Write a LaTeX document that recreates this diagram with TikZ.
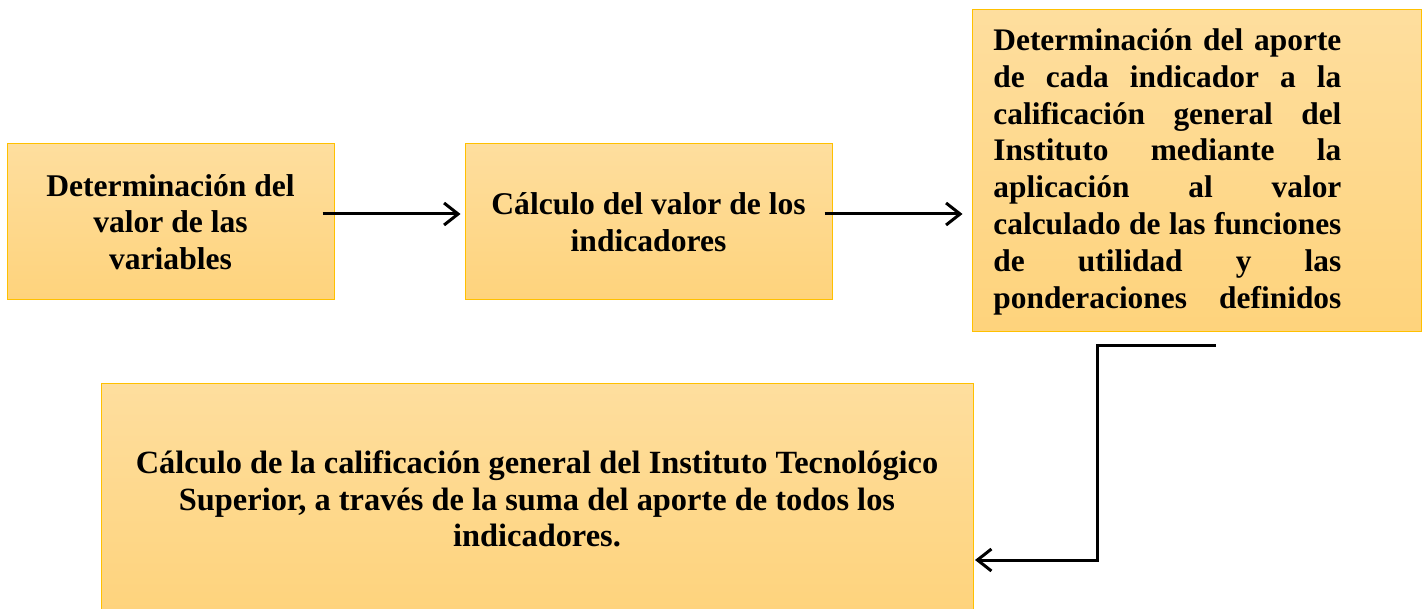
\documentclass[tikz,border=0pt]{standalone}
\usepackage{fontspec}
\setmainfont{Liberation Serif}
\usetikzlibrary{arrows.meta}
\definecolor{boxtop}{RGB}{254,222,158}
\definecolor{boxbot}{RGB}{254,211,124}
\definecolor{boxline}{RGB}{255,192,0}
\tikzset{
  box/.style={draw=boxline, line width=0.5pt, top color=boxtop, bottom color=boxbot,
    font=\fontsize{15.8}{18.4}\selectfont\bfseries, align=center, inner sep=0pt},
  txt/.style={font=\fontsize{15.7}{18.45}\selectfont\bfseries, inner sep=0pt},
  arr/.style={-{Straight Barb[length=7pt,width=11pt]}, line width=1.5pt}
}
\begin{document}
\begin{tikzpicture}[x=0.5pt,y=-0.5pt]
  \useasboundingbox (0,0) rectangle (1424,609);
  \node[box, minimum width=163.5pt, minimum height=78pt] (b1) at (170.5,222)
    {Determinación del\\valor de las\\variables};
  \node[box, minimum width=183.5pt, minimum height=78pt] (b2) at (648.5,222)
    {Cálculo del valor de los\\indicadores};
  \node[box, minimum width=224.5pt, minimum height=160.5pt] (b3) at (1196.5,170.5) {};
  \node[txt, text width=174pt, align=justify, anchor=north west] (t3) at (993,28)
    {Determinación del aporte\linebreak
     de cada indicador a la\linebreak
     calificación general del\linebreak
     Instituto mediante la\linebreak
     aplicación al valor\linebreak
     calculado de las funciones\linebreak
     de utilidad y las\linebreak
     ponderaciones definidos\parfillskip=0pt\par};
  \node[box, font=\fontsize{16.2}{18.4}\selectfont\bfseries,
    minimum width=436pt, minimum height=116pt] (b4) at (537,499)
    {Cálculo de la calificación general del Instituto Tecnológico\\
     Superior, a través de la suma del aporte de todos los\\
     indicadores.};
  \coordinate (a1) at ([xshift=-6pt,yshift=4pt]b1.east);
  \coordinate (a2) at ([xshift=-4pt,yshift=4pt]b2.east);
  \coordinate (s3) at (1216,345);
  \coordinate (k3) at (1097,560);
  \coordinate (e4) at (975,560);
  \draw[arr] (a1) -- ([xshift=-2pt]a1 -| b2.west);
  \draw[arr] (a2) -- ([xshift=-4.5pt]a2 -| b3.west);
  \draw[arr] (s3) -| (k3) -- (e4);
\end{tikzpicture}
\end{document}
